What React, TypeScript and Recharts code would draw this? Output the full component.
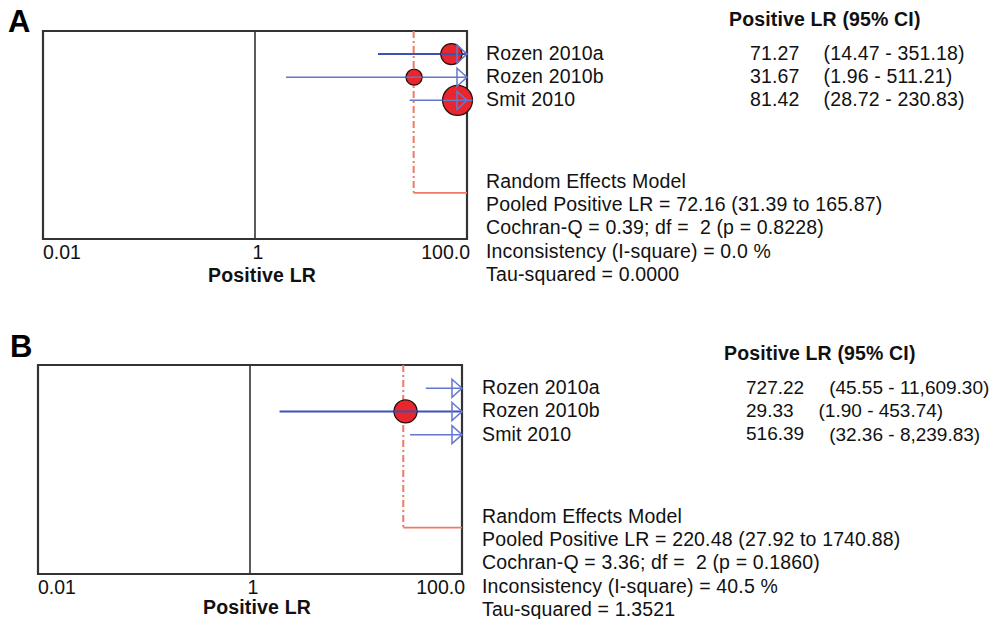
import React from "react";
import { ComposedChart, XAxis, YAxis, ReferenceLine, ReferenceDot, ReferenceArea } from "recharts";

const studies = ["Rozen 2010a", "Rozen 2010b", "Smit 2010"];
const xTicks = [0.01, 1, 100];
const tickText = ["0.01", "1", "100.0"];

// panel A
const lrA = [71.27, 31.67, 81.42];
const lowA = [14.47, 1.96, 28.72];
const highA = [351.18, 511.21, 230.83];
const weightA = [28, 16, 56];
const pooledA = [72.16, 31.39, 165.87];
const statsA = [
  "Random Effects Model",
  "Pooled Positive LR = 72.16 (31.39 to 165.87)",
  "Cochran-Q = 0.39; df =  2 (p = 0.8228)",
  "Inconsistency (I-square) = 0.0 %",
  "Tau-squared = 0.0000",
];

// panel B
const lrB = [727.22, 29.33, 516.39];
const lowB = [45.55, 1.9, 32.36];
const highB = [11609.3, 453.74, 8239.83];
const weightB = [31, 33, 36];
const pooledB = [220.48, 27.92, 1740.88];
const statsB = [
  "Random Effects Model",
  "Pooled Positive LR = 220.48 (27.92 to 1740.88)",
  "Cochran-Q = 3.36; df =  2 (p = 0.1860)",
  "Inconsistency (I-square) = 40.5 %",
  "Tau-squared = 1.3521",
];

const FONT = "'Liberation Sans', Arial, sans-serif";
const BOX = "#333";
const RED = "#f07a66";
const DARK_BLUE = "#3d51b3";
const LIGHT_BLUE = "#6477d0";
const X_MAX = 100;

const fmt = (v) =>
  v.toLocaleString("en-US", { minimumFractionDigits: 2, maximumFractionDigits: 2 });

const layoutA = {
  height: 310, top: 31, left: 43, right: 529, axisH: 71,
  letter: [-35, -10], nameDx: 19, valueDx: 283, headDx: 262, titleDy: 36,
  rowFont: 19.5, rowSpacing: 0.15, ciGap: 24,
  lineColor: [DARK_BLUE, LIGHT_BLUE, LIGHT_BLUE], lineW: [2, 1.5, 1.5],
};
const layoutB = {
  height: 309, top: 55, left: 38, right: 534, axisH: 45,
  letter: [-28, -19], nameDx: 20, valueDx: 284, headDx: 262, titleDy: 33,
  rowFont: 19, rowSpacing: 0, ciGap: 25,
  lineColor: [LIGHT_BLUE, DARK_BLUE, LIGHT_BLUE], lineW: [1.5, 2, 1.5],
};

const AxisTick = ({ x, y, payload, index }) => {
  const anchor = index === 0 ? "start" : index === 2 ? "end" : "middle";
  const dx = index === 0 ? 0 : 3;
  return (
    <text x={x + dx} y={y + 13} textAnchor={anchor} dominantBaseline="central"
      fontFamily={FONT} fontSize={19.5} fill="#111">
      {tickText[xTicks.indexOf(payload.value)]}
    </text>
  );
};

const Panel = ({ letter, lr, low, high, weight, pooled, stats, layout }) => {
  const rows = lr.map((v, i) => ({
    name: studies[i], lr: v, low: low[i], high: high[i], w: weight[i], y: i + 1,
  }));
  const pooledY = 7;
  const txt = {
    fontFamily: FONT, fontSize: 19.5, fill: "#111", dominantBaseline: "central",
    letterSpacing: 0.15, style: { whiteSpace: "pre" },
  };
  return (
    <ComposedChart
      width={996}
      height={layout.height}
      margin={{ top: layout.top, right: layout.right, left: layout.left, bottom: 0 }}
    >
      <XAxis type="number" dataKey="x" scale="log" domain={[0.01, X_MAX]} ticks={xTicks}
        allowDataOverflow axisLine={false} tickLine={false} tickSize={0} tickMargin={0}
        height={layout.axisH} interval={0} tick={(p) => <AxisTick {...p} />} />
      <YAxis type="number" dataKey="y" domain={[0, 9]} reversed hide allowDataOverflow />

      <ReferenceArea x1={0.01} x2={X_MAX} y1={0} y2={9} fill="none" fillOpacity={0}
        stroke={BOX} strokeWidth={2.2} ifOverflow="visible" />
      <ReferenceLine x={1} stroke={BOX} strokeWidth={1.6} />

      {/* pooled marker */}
      <ReferenceLine segment={[{ x: pooled[1], y: 0 }, { x: pooled[1], y: pooledY }]}
        stroke={RED} strokeWidth={2} strokeDasharray="7 3 2 3" />
      <ReferenceLine segment={[{ x: pooled[1], y: pooledY }, { x: Math.min(pooled[2], X_MAX), y: pooledY }]}
        stroke={RED} strokeWidth={1.8} />

      {/* confidence intervals */}
      {rows.map((r, i) => (
        <ReferenceLine key={"ci" + i}
          segment={[{ x: Math.max(r.low, 0.01), y: r.y }, { x: Math.min(r.high, X_MAX), y: r.y }]}
          stroke={layout.lineColor[i]} strokeWidth={layout.lineW[i]} />
      ))}

      {/* point estimates, sized by weight */}
      {rows.map((r, i) => (
        <ReferenceDot key={"pt" + i} x={r.lr} y={r.y} ifOverflow="discard"
          shape={(p) => {
            const rad = 2 * Math.sqrt(r.w);
            return (
              <g>
                <circle cx={p.cx} cy={p.cy} r={rad} fill="#e8262b" stroke="#2a1010" strokeWidth={1.3} />
                <line x1={p.cx - rad} x2={p.cx + rad} y1={p.cy} y2={p.cy}
                  stroke={layout.lineColor[i]} strokeWidth={layout.lineW[i]} />
              </g>
            );
          }} />
      ))}

      {/* arrows for intervals beyond the axis */}
      {rows.filter((r) => r.high > X_MAX).map((r) => (
        <ReferenceDot key={"ar" + r.y} x={X_MAX} y={r.y} ifOverflow="visible"
          shape={(p) => (
            <polygon
              points={`${p.cx - 10},${p.cy - 9} ${p.cx},${p.cy} ${p.cx - 10},${p.cy + 9}`}
              fill="none" stroke={LIGHT_BLUE} strokeWidth={1.5} />
          )} />
      ))}

      {/* panel letter */}
      <ReferenceDot x={0.01} y={0} ifOverflow="visible"
        shape={(p) => (
          <text x={p.cx + layout.letter[0]} y={p.cy + layout.letter[1]} {...txt}
            fontSize={31} fontWeight="bold" fill="#000">{letter}</text>
        )} />

      {/* axis title */}
      <ReferenceDot x={1} y={9} ifOverflow="visible"
        shape={(p) => (
          <text x={p.cx + 7} y={p.cy + layout.titleDy} {...txt} textAnchor="middle" fontWeight="bold">
            Positive LR
          </text>
        )} />

      {/* header */}
      <ReferenceDot x={X_MAX} y={-0.5} ifOverflow="visible"
        shape={(p) => (
          <text x={p.cx + layout.headDx} y={p.cy} {...txt} fontWeight="bold">
            Positive LR (95% CI)
          </text>
        )} />

      {/* study rows */}
      {rows.map((r) => (
        <ReferenceDot key={"tx" + r.y} x={X_MAX} y={r.y} ifOverflow="visible"
          shape={(p) => (
            <g>
              <text x={p.cx + layout.nameDx} y={p.cy - 1} {...txt}>{r.name}</text>
              <text x={p.cx + layout.valueDx} y={p.cy - 1} {...txt}
                fontSize={layout.rowFont} letterSpacing={layout.rowSpacing}>
                {fmt(r.lr)}
                <tspan dx={layout.ciGap}>{`(${fmt(r.low)} - ${fmt(r.high)})`}</tspan>
              </text>
            </g>
          )} />
      ))}

      {/* model statistics */}
      {stats.map((s, i) => (
        <ReferenceDot key={"st" + i} x={X_MAX} y={6.5 + i} ifOverflow="visible"
          shape={(p) => (
            <text x={p.cx + layout.nameDx} y={p.cy} {...txt}>{s}</text>
          )} />
      ))}
    </ComposedChart>
  );
};

export default function App() {
  return (
    <div style={{ position: "absolute", left: 0, top: 0, width: 996, height: 619, background: "#fff" }}>
      <Panel letter="A" lr={lrA} low={lowA} high={highA} weight={weightA} pooled={pooledA}
        stats={statsA} layout={layoutA} />
      <Panel letter="B" lr={lrB} low={lowB} high={highB} weight={weightB} pooled={pooledB}
        stats={statsB} layout={layoutB} />
    </div>
  );
}
